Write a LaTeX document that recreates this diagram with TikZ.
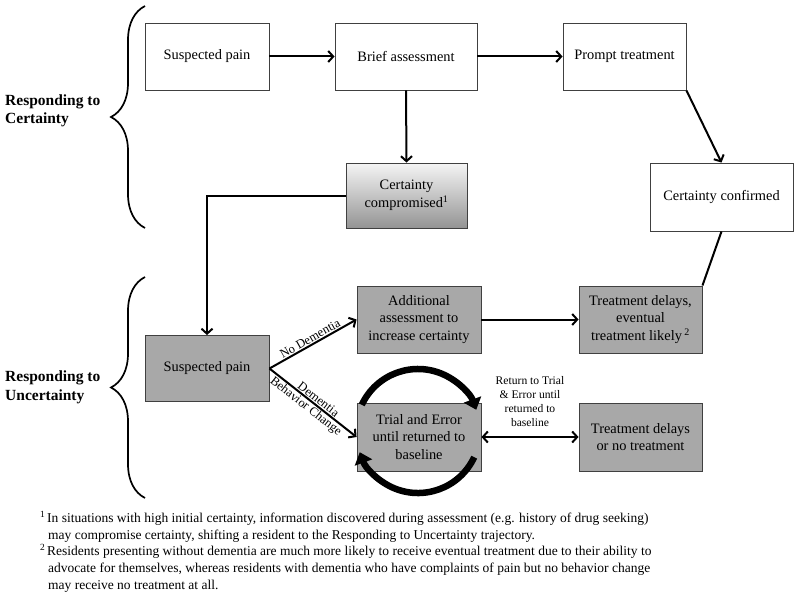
\documentclass[tikz,border=0pt]{standalone}
\usepackage{fontspec}
\setmainfont{Liberation Serif}
\usetikzlibrary{arrows.meta,decorations.pathreplacing,calc}
\definecolor{boxgray}{RGB}{168,168,168}
\begin{document}
\begin{tikzpicture}[x=1pt,y=-1pt,
  box/.style={draw=black!75,line width=0.9pt,align=center,inner sep=2pt,
    font=\fontsize{14.4}{17.5}\selectfont},
  gbox/.style={box,fill=boxgray},
  arr/.style={line width=2pt,-{Straight Barb[length=5pt,width=11pt]}},
  darr/.style={line width=2pt,{Straight Barb[length=5pt,width=11pt]}-{Straight Barb[length=5pt,width=11pt]}},
  plainline/.style={line width=2pt},
  elabel/.style={font=\fontsize{12.5}{14}\selectfont,inner sep=1pt},
  smalltext/.style={font=\fontsize{11.6}{14}\selectfont,align=center,inner sep=0pt},
  sidelabel/.style={font=\bfseries\fontsize{15.5}{18.5}\selectfont,align=left,inner sep=0pt,anchor=west},
  bracestyle/.style={decorate,decoration={brace,amplitude=34pt},line width=1.7pt},
  looparrow/.style={line width=6.5pt,-{Triangle[length=11pt,width=18pt]}},
  fnstyle/.style={font=\fontsize{13.5}{16.6}\selectfont,align=left,inner sep=0pt,anchor=north west}]
\useasboundingbox (0,0) rectangle (800,594);
\fill[white] (0,0) rectangle (800,594);

% top row
\node[box,minimum width=124pt,minimum height=67pt] (sp1) at (207,56.5) {Suspected pain};
\node[box,minimum width=142pt,minimum height=67pt] (ba) at (406,56.5) {Brief assessment};
\node[box,minimum width=123pt,minimum height=67pt] (pt) at (624.5,56.5) {\raisebox{-1.5pt}{Prompt treatment}};
\node[box,minimum width=121pt,minimum height=65pt,top color=white!96!black,bottom color=black!42] (cc) at (406.5,195.5) {Certainty\\compromised\textsuperscript{1}};
\node[box,minimum width=143pt,minimum height=68pt] (conf) at (721.5,197) {Certainty confirmed};

% bottom part
\node[gbox,minimum width=124pt,minimum height=66pt] (sp2) at (207,368.5) {Suspected pain};
\node[gbox,minimum width=124pt,minimum height=67pt] (aa) at (419,319.5) {Additional\\assessment to\\increase certainty};
\node[gbox,minimum width=123pt,minimum height=67pt] (td1) at (640.5,319.5) {Treatment delays,\\eventual\\treatment likely\,\textsuperscript{2}};
\node[gbox,minimum width=124pt,minimum height=68pt] (te) at (419,437) {Trial and Error\\until returned to\\baseline};
\node[gbox,minimum width=123pt,minimum height=68pt] (td2) at (640.5,437) {Treatment delays\\or no treatment};
\node[smalltext] (ret) at (530,402) {Return to Trial\\\& Error until\\returned to\\baseline};

% connectors
\draw[arr] (sp1) -- (ba);
\draw[arr] (ba) -- (pt);
\draw[arr] (ba.south) -- (cc.north);
\draw[arr] (pt.south east) -- (conf.north);
\draw[arr] (cc.west) -| (sp2.north);
\draw[plainline] (td1.north east) -- (conf.south);
\draw[arr] (sp2.east) -- node[sloped,above,elabel,pos=0.5] (lnd) {No Dementia} (aa.west);
\draw[arr] (sp2.east) -- node[sloped,above,elabel,pos=0.52] (ld) {Dementia} node[sloped,below,elabel,pos=0.47] (lbc) {Behavior Change} (te.west);
\draw[arr] (aa) -- (td1);
\draw[darr] (te) -- (td2);

% loop arrows
\coordinate (loop) at (418,431);
\draw[looparrow] ($(loop)+(155:62pt)$) arc[start angle=155,end angle=20,radius=62pt];
\draw[looparrow] ($(loop)+(-25:62pt)$) arc[start angle=-25,end angle=-160,radius=62pt];

% braces and side labels
\coordinate (b1a) at (145,228);
\coordinate (b1b) at (145,6);
\coordinate (b2a) at (145,498);
\coordinate (b2b) at (145,277);
\draw[bracestyle] (b1a) -- (b1b);
\draw[bracestyle] (b2a) -- (b2b);
\node[sidelabel] (rc) at (5,111) {Responding to\\Certainty};
\node[sidelabel] (ru) at (5,387.5) {Responding to\\Uncertainty};

% footnotes
\node[fnstyle] (fn) at (40,511) {\makebox[7pt][l]{\textsuperscript{1}}In situations with high initial certainty, information discovered during assessment (e.g. history of drug seeking)\\
\hspace*{8pt}may compromise certainty, shifting a resident to the Responding to Uncertainty trajectory.\\
\makebox[7pt][l]{\textsuperscript{2}}Residents presenting without dementia are much more likely to receive eventual treatment due to their ability to\\
\hspace*{8pt}advocate for themselves, whereas residents with dementia who have complaints of pain but no behavior change\\
\hspace*{8pt}may receive no treatment at all.};
\end{tikzpicture}
\end{document}
